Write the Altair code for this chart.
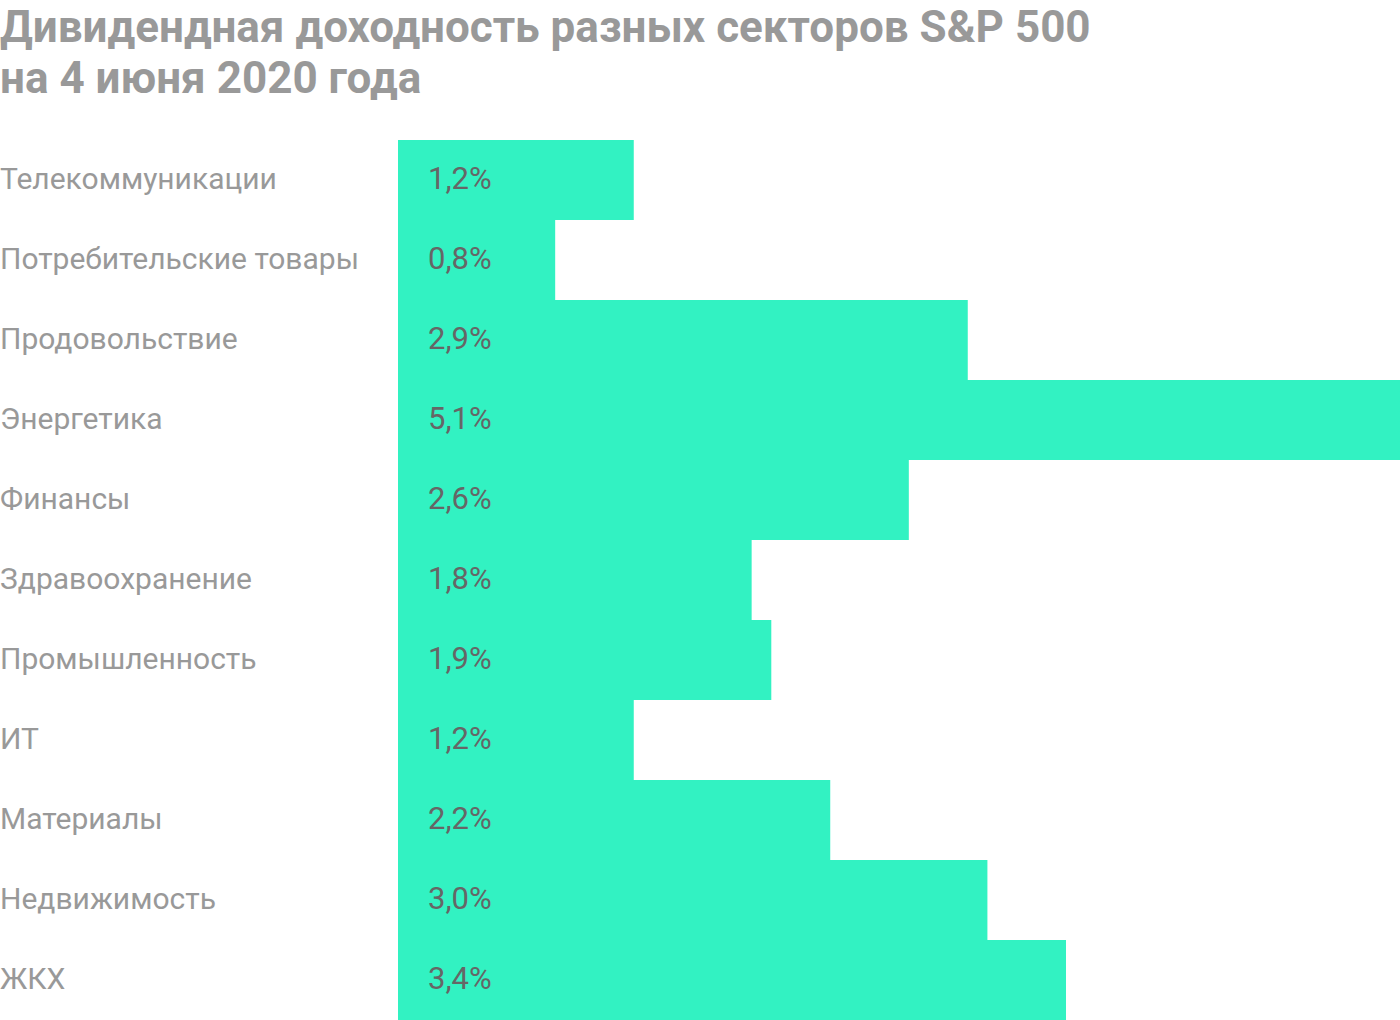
import altair as alt
import pandas as pd

title_lines = ["Дивидендная доходность разных секторов S&P 500", "на 4 июня 2020 года"]
sectors = [
    "Телекоммуникации",
    "Потребительские товары",
    "Продовольствие",
    "Энергетика",
    "Финансы",
    "Здравоохранение",
    "Промышленность",
    "ИТ",
    "Материалы",
    "Недвижимость",
    "ЖКХ",
]
values = [1.2, 0.8, 2.9, 5.1, 2.6, 1.8, 1.9, 1.2, 2.2, 3.0, 3.4]
value_labels = ["1,2%", "0,8%", "2,9%", "5,1%", "2,6%", "1,8%", "1,9%", "1,2%", "2,2%", "3,0%", "3,4%"]

df = pd.DataFrame({"sector": sectors, "value": values, "label": value_labels})

FONT = "Roboto"
LEFT = 398
W = 1400 - LEFT
H = 880

y = alt.Y("sector:N", sort=sectors, axis=None,
          scale=alt.Scale(paddingInner=0, paddingOuter=0))
x = alt.X("value:Q", axis=None,
          scale=alt.Scale(domain=[0, 5.1], nice=False, zero=True))

base = alt.Chart(df)

bars = base.mark_bar(color="#32F2C2", cornerRadius=0, strokeWidth=0).encode(x=x, y=y)

vals = base.mark_text(align="left", baseline="middle", dx=30, color="#666666",
                      font=FONT, fontSize=31).encode(x=alt.value(0), y=y, text="label:N")

names = base.mark_text(align="left", baseline="middle", color="#999999",
                       font=FONT, fontSize=30).encode(x=alt.value(-LEFT), y=y, text="sector:N")

chart = alt.layer(bars, vals, names).properties(
    width=W,
    height=H,
    padding={"left": LEFT, "top": 140, "right": 0, "bottom": 0},
    autosize=alt.AutoSizeParams(type="none"),
    title=alt.TitleParams(
        text=title_lines,
        anchor="start",
        frame="group",
        font=FONT,
        fontSize=44,
        fontWeight="bold",
        color="#999999",
        lineHeight=51,
        dx=-LEFT,
        offset=38,
    ),
).configure(background="white").configure_view(stroke=None, strokeWidth=0)

chart.save("out.html", embed_options={"renderer": "svg", "actions": False})
